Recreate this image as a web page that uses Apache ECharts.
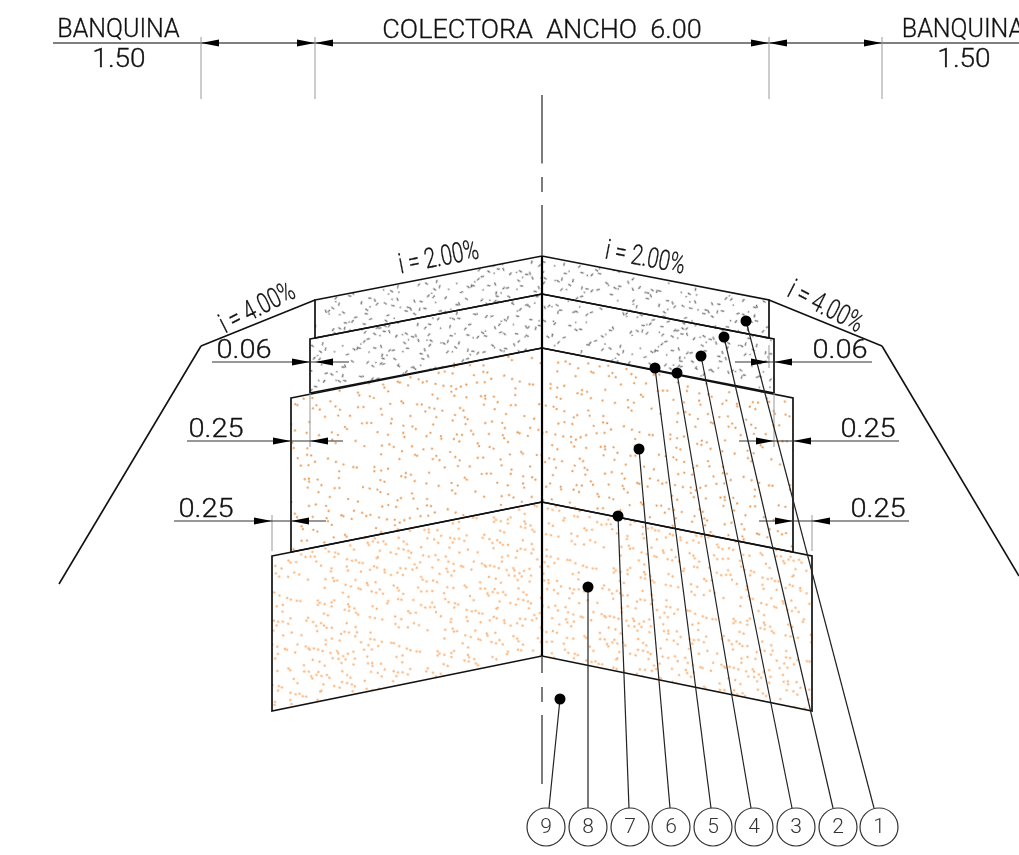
<!DOCTYPE html>
<html><head><meta charset="utf-8">
<style>html,body{margin:0;padding:0;background:#fff;overflow:hidden}#c{width:1019px;height:855px}</style>
<script src="https://cdn.jsdelivr.net/npm/echarts@6/dist/echarts.min.js"></script>
</head><body><div id="c"></div>
<script>
// Pavement layers: left-edge top, crown top, right-edge top, right-edge bottom, crown bottom, left-edge bottom
const layerWearing = [315,300, 542,256, 769,300, 769,338, 542,294, 315,338];
const layerBinder  = [310,339, 542,294, 774,339, 774,393, 542,348, 310,393];
const layerBase    = [291,398, 542,348, 793,398, 793,552, 542,502, 291,552];
const layerSubbase = [272,556, 542,502, 812,556, 812,711, 542,656, 272,711];

const shoulderLines = [[59,584,201,346],[201,346,315,300],[769,300,882,346],[882,346,1019,576]];
const crownLine = [[542,256,542,656]];
const centerDashes = [[542,95,542,163.5],[542,177,542,192],[542,205,542,256],[542,656,542,673],[542,687,542,702],[542,715,542,784]];
const mainDimLine = [[53,43,1019,43]];
const extensionLines = [[201,37,201,99],[315,37,315,99],[769,37,769,99],[882,37,882,99],
  [310,393,310,447],[272,515,272,551],[769,345,769,368],[774,393,774,447],[812,515,812,551]];
const thinDimLines = [[212,362,349,362],[187,441,343,441],[174,521,326,521],[735,362,872,362],[739,441,899,441],[759,521,909,521]];
// tip x, tip y, direction (1 points right, -1 points left)
const arrows = [[201,43,-1],[315,43,1],[315,43,-1],[769,43,1],[769,43,-1],[882,43,1],
  [310,362,1],[315,362,-1],[291,441,1],[310,441,-1],[272,521,1],[291,521,-1],
  [769,362,1],[774,362,-1],[774,441,1],[793,441,-1],[793,521,1],[812,521,-1]];

const bubbleLabels = ['1','2','3','4','5','6','7','8','9'];
const bubbleCenters = [[879,827],[838,827],[796,827],[754,827],[713,827],[671,827],[630,827],[588,827],[546,827]];
const leaderEnds = [[874,808],[833,808],[792,808],[751,808],[711,808],[670,808],[629,808],[588,808],[549,808]];
const leaderDots = [[746,321],[724,337],[701,356],[677,373],[655,368],[639,449],[618,516],[588,587],[560,699]];

const textLabels = ['BANQUINA','1.50','COLECTORA  ANCHO  6.00','BANQUINA','1.50',
  '0.06','0.25','0.25','0.06','0.25','0.25','i = 4.00%','i = 2.00%','i = 2.00%','i = 4.00%'];
const textCenters = [[118.5,31],[119,61],[542,32],[963,31],[964,61],
  [244,352],[216,431],[206,511],[840,352],[868,431],[878,511],[258,309],[439,259],[645,259],[825,308]];
const textRotations = [0,0,0,0,0,0,0,0,0,0,0,27,11,-11,-27];
const textWidthScale = [1,1.12,1.08,1,1.12,1.16,1.16,1.16,1.16,1.16,1.16,.74,.74,.74,.74];
const textSizes = [25,25,25,25,25,25,25,25,25,25,25,28,28,28,28];

// texture dots read from the sub-base fill, in 3x zoom pixels of a 390x450 crop
const stippleDots = [52,12,65,12,126,12,155,12,203,10,280,12,298,14,322,12,334,12,352,8,362,5,13,42,12,52,32,48,45,55,55,42,66,45,76,48,90,42,130,38,143,35,123,48,165,25,165,38,210,28,222,25,245,22,272,14,240,38,54,68,127,68,188,48,212,47,205,65,226,55,303,47,318,36,325,55,355,64,103,72,88,83,93,95,178,83,165,95,222,80,243,92,268,84,312,90,325,88,338,82,355,82,285,95,15,98,132,100,138,105,155,107,190,100,232,98,247,100,325,100,375,102,40,124,50,126,55,128,65,120,78,118,92,117,116,113,128,125,145,120,158,128,165,113,193,118,250,118,270,113,285,118,322,118,355,120,15,128,18,153,75,153,96,150,115,155,170,150,188,155,200,158,243,150,275,167,292,155,305,165,322,147,335,158,352,158,375,155,382,155,57,178,78,190,65,195,105,180,103,190,118,187,132,178,142,183,182,180,197,177,212,175,222,177,258,170,338,180,345,187,362,177,18,205,25,208,90,200,96,205,133,208,165,200,182,198,222,193,258,193,245,205,255,212,325,202,360,193,298,193,45,228,60,235,133,232,135,228,210,232,225,227,245,222,278,232,285,238,298,238,315,228,328,228,362,230,380,225,12,265,22,265,15,278,52,270,68,268,78,262,90,265,100,262,128,272,135,258,145,258,168,255,172,262,192,262,207,248,225,248,282,265,295,272,310,265,325,258,360,250,370,265,383,270,60,290,68,300,105,288,158,300,212,288,225,290,232,296,248,300,338,290,350,300,338,305,310,310,325,312,20,313,22,322,100,317,135,312,140,317,178,315,192,323,240,320,250,318,283,305,360,312,378,318,35,338,42,345,50,340,78,342,95,340,118,337,125,337,158,330,172,328,215,337,215,345,282,342,290,345,305,337,16,350,80,367,100,372,24,375,178,370,192,372,252,372,272,372,312,368,328,368,358,372,108,393,114,398,118,410,65,398,60,407,130,397,140,407,148,410,183,403,198,400,220,395,262,392,300,387,275,397,20,418,28,422,25,430,43,420,65,418,105,412];
const dashAngles = [0.2,1.1,2.3,0.7,1.7,2.8];

function makeTile(kind){
  const W=130,H=145,cv=document.createElement('canvas');cv.width=W;cv.height=H;
  const g=cv.getContext('2d');
  g.fillStyle = g.strokeStyle = kind==='fine' ? '#fbb47a' : kind==='coarse' ? '#e58e44' : '#6a6a6a';
  for(let i=0,n=0;i<stippleDots.length;i+=2,n++){
    if(kind==='coarse' && n%3===2) continue;
    const x=stippleDots[i]/3,y=stippleDots[i+1]/3;
    if(kind==='gray'){
      const a=dashAngles[n%dashAngles.length],L=n%4===0?0.8:1.7;
      g.lineWidth=1.25;g.beginPath();g.moveTo(x-Math.cos(a)*L,y-Math.sin(a)*L);g.lineTo(x+Math.cos(a)*L,y+Math.sin(a)*L);g.stroke();
    } else { g.beginPath();g.arc(x,y,kind==='fine'?1.2:1.1,0,7);g.fill(); }
  }
  return {image:cv,repeat:'repeat',rotation:kind==='gray'?-0.5:0.4};
}

const chart = echarts.init(document.getElementById('c'));
const lineSeries=(rows,stroke,width,z)=>({type:'custom',coordinateSystem:'cartesian2d',silent:true,clip:false,z,data:rows,
  renderItem:(p,api)=>{const a=api.coord([api.value(0),api.value(1)]),b=api.coord([api.value(2),api.value(3)]);
    return {type:'line',shape:{x1:a[0],y1:a[1],x2:b[0],y2:b[1]},style:{stroke,lineWidth:width}};}});
const layerSeries=(rows,fill)=>({type:'custom',coordinateSystem:'cartesian2d',silent:true,clip:false,z:1,data:[rows],
  renderItem:(p,api)=>{const pts=[];for(let i=0;i<6;i++)pts.push(api.coord([api.value(2*i),api.value(2*i+1)]));
    return {type:'polygon',shape:{points:pts},style:{fill,stroke:'#111',lineWidth:1.7}};}});
const tileFine=makeTile('fine'),tileCoarse=makeTile('coarse'),tileGray=makeTile('gray');
const FONT='Roboto';
chart.setOption({
  animation:false,
  grid:{left:0,top:0,right:0,bottom:0},
  xAxis:{type:'value',min:0,max:1019,show:false},
  yAxis:{type:'value',min:0,max:855,inverse:true,show:false},
  series:[
    layerSeries(layerSubbase,tileFine),
    layerSeries(layerBase,tileCoarse),
    layerSeries(layerBinder,tileGray),
    layerSeries(layerWearing,tileGray),
    lineSeries(shoulderLines,'#111',1.6,2),
    lineSeries(crownLine,'#000',2.2,2),
    lineSeries(centerDashes,'#444',1.4,2),
    lineSeries(mainDimLine,'#555',1.6,2),
    lineSeries(extensionLines,'#999',1,2),
    lineSeries(thinDimLines,'#333',1.2,2),
    lineSeries(leaderDots.map((d,i)=>[d[0],d[1],leaderEnds[i][0],leaderEnds[i][1]]),'#222',1.2,3),
    {type:'custom',coordinateSystem:'cartesian2d',silent:true,clip:false,z:4,data:arrows,
      renderItem:(p,api)=>{const t=api.coord([api.value(0),api.value(1)]),d=api.value(2);
        return {type:'polygon',shape:{points:[[t[0],t[1]],[t[0]-d*18,t[1]-3.4],[t[0]-d*18,t[1]+3.4]]},style:{fill:'#000'}};}},
    {type:'scatter',silent:true,z:5,symbol:'circle',symbolSize:11,itemStyle:{color:'#000',opacity:1},data:leaderDots},
    {type:'custom',coordinateSystem:'cartesian2d',silent:true,clip:false,z:5,data:bubbleCenters,
      renderItem:(p,api)=>{const c=api.coord([api.value(0),api.value(1)]);
        return {type:'group',children:[
          {type:'circle',shape:{cx:c[0],cy:c[1],r:19},style:{fill:'#fff',stroke:'#333',lineWidth:1.2}},
          {type:'text',x:c[0],y:c[1]+1,style:{text:bubbleLabels[p.dataIndex],fill:'#333',font:'300 21px '+FONT,align:'center',verticalAlign:'middle'}}
        ]};}},
    {type:'custom',coordinateSystem:'cartesian2d',silent:true,clip:false,z:6,data:textCenters,
      renderItem:(p,api)=>{const c=api.coord([api.value(0),api.value(1)]),i=p.dataIndex;
        return {type:'text',x:c[0],y:c[1],rotation:textRotations[i]*Math.PI/180,scaleX:textWidthScale[i],
          style:{text:textLabels[i],fill:'#111',stroke:'#111',lineWidth:0.3,font:'300 '+textSizes[i]+'px '+FONT,align:'center',verticalAlign:'middle'}};}}
  ]
});
</script></body></html>
